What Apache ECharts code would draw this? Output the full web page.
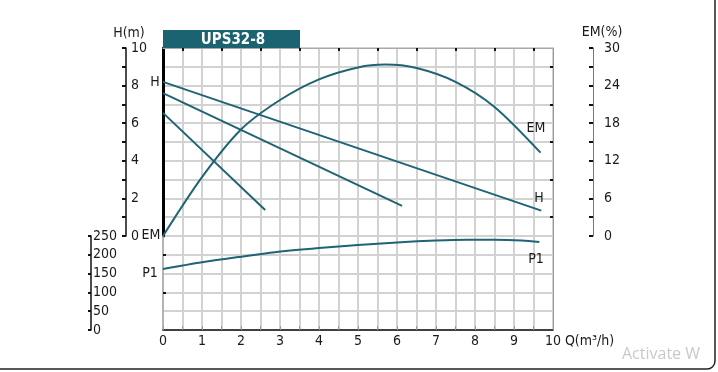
<!DOCTYPE html>
<html>
<head>
<meta charset="utf-8">
<script src="https://cdn.jsdelivr.net/npm/echarts@6/dist/echarts.min.js"></script>
<style>
html,body{margin:0;padding:0;background:#fff;}
#c{width:718px;height:372px;}
</style>
</head>
<body>
<div id="c"></div>
<script>
// ---- data ----
const title = 'UPS32-8';
const qTicks = [0,1,2,3,4,5,6,7,8,9,10];
// H curves (m) vs Q (m3/h)
const hHighQ = [0, 9.7];
const hHighH = [8.2, 1.35];
const hMidQ = [0, 6.13];
const hMidH = [7.6, 1.6];
const hLowQ = [0, 2.62];
const hLowH = [6.55, 1.38];
// Efficiency EM (%)
const emQ = [0, 1, 2, 3, 4, 5, 5.7, 6.5, 7.5, 8.5, 9.68];
const emV = [0, 9.4, 17.0, 21.7, 25.0, 26.9, 27.35, 26.8, 24.6, 20.6, 13.3];
// Power P1 (W)
const p1Q = [0, 1, 2, 2.87, 4, 5, 6, 7, 7.8, 8.5, 9.2, 9.65];
const p1V = [162, 180, 195, 207, 218, 226, 233, 238, 240, 240, 238, 234];
// curve labels
const leftLabels = ['H', 'EM', 'P1'];
const rightLabels = ['EM', 'H', 'P1'];

const FONT = "'DejaVu Sans Condensed','Liberation Sans Narrow','Arial Narrow',sans-serif";
const FS = 14;
const TEAL = '#1f6475';
const GRIDC = '#d2d2d2';
const UP = {left: 163, top: 48, width: 390, height: 188};
const LO = {left: 163, top: 236, width: 390, height: 94};

const zip = (a, b) => a.map((v, i) => [v, b[i]]);

const chart = echarts.init(document.getElementById('c'));
const lineSeries = (name, data, xi, yi, smooth) => ({
  name, type: 'line', xAxisIndex: xi, yAxisIndex: yi, data,
  smooth: smooth ? 0.3 : false, showSymbol: false, symbol: 'none',
  lineStyle: {color: TEAL, width: 2}, silent: true, animation: false
});

const txt = (text, x, y, align, size) => ({
  type: 'text', x, y, z: 100,
  style: {text, fill: '#1a1a1a', font: `${size||FS}px ${FONT}`, textAlign: align || 'center', textVerticalAlign: 'middle'}
});
const hiddenX = (gi) => ({gridIndex: gi, type: 'value', min: 0, max: 10, show: false});
const lbl = {fontSize: FS, color: '#1a1a1a', fontFamily: FONT};
const line = (color, width) => ({show: true, onZero: false, lineStyle: {color, width}});

chart.setOption({
  animation: false,
  backgroundColor: '#fff',
  textStyle: {fontFamily: FONT},
  grid: [UP, LO, UP, LO],
  xAxis: [
    // 0: upper grid, vertical split lines
    {gridIndex: 0, type: 'value', min: 0, max: 10, interval: 0.5, position: 'bottom',
     axisLine: {show: false, onZero: false}, axisTick: {show: false}, axisLabel: {show: false},
     splitLine: {show: true, lineStyle: {color: GRIDC, width: 2}}},
    // 1: lower grid, Q axis
    {gridIndex: 1, type: 'value', min: 0, max: 10, interval: 0.5, position: 'bottom',
     axisLine: line('#111', 1.5),
     axisTick: {show: true, inside: true, length: 4, lineStyle: {color: '#999'}},
     axisLabel: Object.assign({show: true, margin: 4,
       formatter: v => (qTicks.indexOf(v) >= 0 ? String(v) : '')}, lbl),
     splitLine: {show: true, lineStyle: {color: GRIDC, width: 2}},
     name: 'Q(m³/h)', nameLocation: 'end', nameGap: 10,
     nameTextStyle: Object.assign({verticalAlign: 'top', padding: [4, 0, 0, 0]}, lbl)},
    // 2: upper grid top border
    {gridIndex: 0, type: 'value', position: 'top', min: 0, max: 10,
     axisLine: line('#aaa', 1),
     axisTick: {show: true, inside: true, length: 3, customValues: [0.5,1.5,2.5,3.5,4.5,5.5,6.5,7.5,8.5,9.5], lineStyle: {color: '#111', width: 2}},
     axisLabel: {show: false}, splitLine: {show: false}},
    hiddenX(2),
    hiddenX(3)
  ],
  yAxis: [
    // 0: H axis
    {gridIndex: 0, type: 'value', min: 0, max: 10, interval: 1, position: 'left', offset: 37,
     axisLine: line('#111', 1.5),
     axisTick: {show: true, inside: false, length: 4, lineStyle: {color: '#111', width: 2}},
     axisLabel: Object.assign({show: true, inside: true, margin: 5,
       formatter: v => (v % 2 === 0 ? String(v) : '')}, lbl),
     splitLine: {show: true, lineStyle: {color: GRIDC, width: 2}},
     name: 'H(m)', nameLocation: 'end', nameGap: 8,
     nameTextStyle: Object.assign({padding: [0, 0, 0, 6]}, lbl)},
    // 1: EM axis
    {gridIndex: 0, type: 'value', min: 0, max: 30, interval: 3, position: 'right', offset: 40,
     axisLine: line('#777', 1),
     axisTick: {show: true, inside: true, length: 4, lineStyle: {color: '#111', width: 2}},
     axisLabel: Object.assign({show: true, margin: 11,
       formatter: v => (v % 6 === 0 ? String(v) : '')}, lbl),
     splitLine: {show: false},
     name: 'EM(%)', nameLocation: 'end', nameGap: 9,
     nameTextStyle: Object.assign({padding: [0, 0, 0, 18]}, lbl)},
    // 2: P1 axis
    {gridIndex: 1, type: 'value', min: 0, max: 250, interval: 50, position: 'left', offset: 72,
     axisLine: line('#111', 1.5),
     axisTick: {show: true, inside: false, length: 3, lineStyle: {color: '#111', width: 2}},
     axisLabel: Object.assign({show: true, inside: true, margin: 2}, lbl),
     splitLine: {show: true, lineStyle: {color: GRIDC, width: 2}}},
    // 3: right edge lower grid
    {gridIndex: 1, type: 'value', min: 0, max: 250, position: 'right', offset: 0,
     axisLine: line('#999', 1),
     axisTick: {show: false}, axisLabel: {show: false}, splitLine: {show: false}},
    // 4: thick left edge of upper grid
    {gridIndex: 2, type: 'value', min: 0, max: 10, position: 'left', offset: 0,
     axisLine: line('#000', 3),
     axisTick: {show: false}, axisLabel: {show: false}, splitLine: {show: false}},
    // 5: right edge of upper grid with small ticks
    {gridIndex: 2, type: 'value', min: 0, max: 10, position: 'right', offset: 0,
     axisLine: line('#999', 1),
     axisTick: {show: true, inside: true, length: 3, customValues: [1,3,5,7,9], lineStyle: {color: '#111', width: 2}},
     axisLabel: {show: false}, splitLine: {show: false}},
    // 6: left edge lower grid
    {gridIndex: 3, type: 'value', min: 0, max: 250, position: 'left', offset: 0,
     axisLine: line('#aaa', 1.5),
     axisTick: {show: true, inside: true, length: 3, customValues: [100, 200], lineStyle: {color: '#111', width: 2}},
     axisLabel: {show: false}, splitLine: {show: false}}
  ],
  series: [
    lineSeries('H-high', zip(hHighQ, hHighH), 0, 0, false),
    lineSeries('H-mid', zip(hMidQ, hMidH), 0, 0, false),
    lineSeries('H-low', zip(hLowQ, hLowH), 0, 0, false),
    lineSeries('EM', zip(emQ, emV), 0, 1, true),
    lineSeries('P1', zip(p1Q, p1V), 1, 2, true)
  ],
  graphic: [
    {type: 'rect', z: 100, shape: {x: 163, y: 30, width: 137, height: 18}, style: {fill: '#1b6371'}},
    {type: 'text', z: 101, x: 233, y: 40, style: {text: title, fill: '#fff', font: `bold 15px ${FONT}`, textAlign: 'center', textVerticalAlign: 'middle'}},
    txt(leftLabels[0], 155, 82),
    txt(leftLabels[1], 151, 235),
    txt(leftLabels[2], 150, 273),
    txt(rightLabels[0], 536, 128),
    txt(rightLabels[1], 539, 198),
    txt(rightLabels[2], 536, 259),
    {type: 'text', z: 100, x: 622, y: 354, style: {text: 'Activate W', fill: '#c9c9c9', font: `16px 'Open Sans',sans-serif`, textAlign: 'left', textVerticalAlign: 'middle'}},
    {type: 'rect', z: 100, shape: {x: -10, y: -10, width: 725, height: 379, r: 8}, style: {fill: 'none', stroke: '#222', lineWidth: 1.5}}
  ]
});
</script>
</body>
</html>
